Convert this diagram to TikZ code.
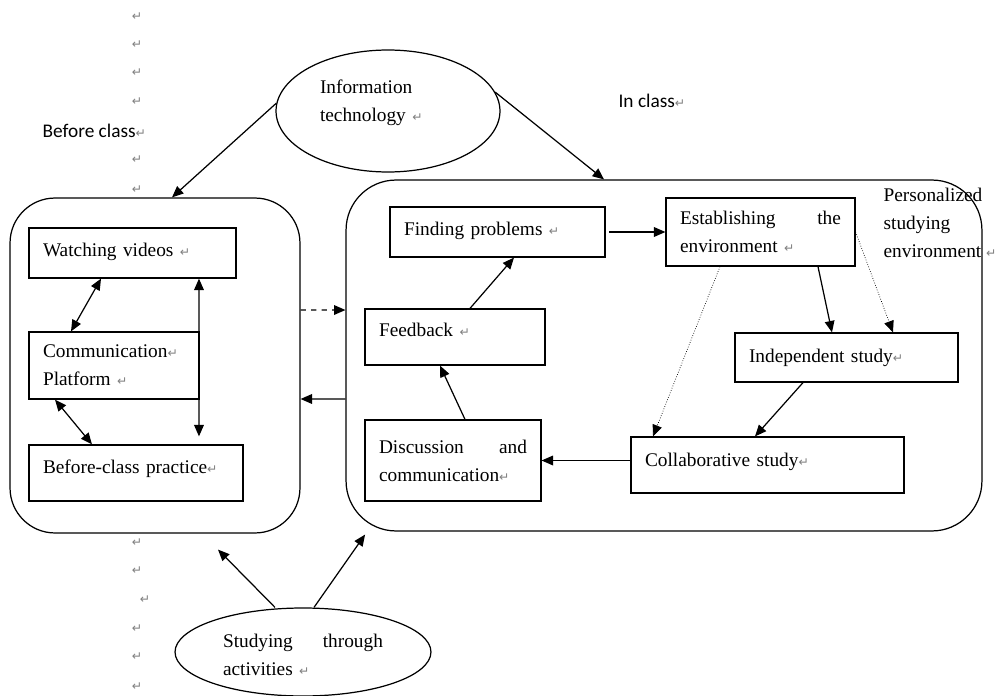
\documentclass[tikz,border=0pt]{standalone}
\usepackage{fontspec}
\setmainfont{Liberation Serif}
\newfontfamily\labelfont{Carlito}
\newfontfamily\markfont{DejaVu Sans}
\usepackage{tikz}
\usetikzlibrary{arrows.meta,shapes.geometric}
\newcommand{\retmark}{{\color{gray}\markfont\scriptsize ↵}}
\newcommand{\boxfont}{\fontsize{11}{16}\selectfont}

\begin{document}
\begin{tikzpicture}[x=0.02cm,y=-0.02cm,>={Triangle[length=6.5pt,width=5.5pt]},line width=0.7pt,
    box/.style={draw,inner xsep=0.28cm,align=left,font=\boxfont},
    bubble/.style={draw,ellipse,align=left,font=\boxfont,inner sep=0pt},
    side/.style={anchor=west,inner sep=0pt,font=\labelfont\fontsize{11}{13}\selectfont}]
                \useasboundingbox (0,0) rectangle (1005,696);
                % the two big panels
                \node[draw,rounded corners=0.9cm,minimum width=5.8cm,minimum height=6.7cm] (lp) at (155,365.5) {};
                \node[draw,rounded corners=1cm,minimum width=12.72cm,minimum height=7.02cm] (rp) at (664,355.5) {};
                % before class
                \node[box,text width=3.58cm,minimum height=1.0cm,text depth=4pt] (watch) at (132.5,253) {Watching videos \retmark};
                \node[box,text width=2.84cm,minimum height=1.34cm] (comm) at (114,365.5) {Communication\retmark\\Platform \retmark};
                \node[box,text width=3.72cm,minimum height=1.12cm,text depth=7pt] (prac) at (136,473) {Before-class practice\retmark};
                % in class
                \node[box,text width=3.74cm,minimum height=1.0cm,text depth=4pt] (find) at (497.5,232) {Finding problems \retmark};
                \node[box,text width=3.04cm,minimum height=1.12cm,text depth=8.5pt] (feed) at (455,337) {Feedback \retmark};
                \node[box,text width=2.96cm,minimum height=1.62cm] (disc) at (453,460.5) {\hbox to 2.96cm{Discussion\hfil and}\\communication\retmark};
                \node[box,text width=3.22cm,minimum height=1.36cm] (estab) at (760.5,232) {\hbox to 3.22cm{Establishing\hfil the}\\environment \retmark};
                \node[box,text width=3.9cm,minimum height=0.98cm] (indep) at (846.5,357.5) {Independent study\retmark};
                \node[box,text width=4.9cm,minimum height=1.12cm,text depth=6pt] (collab) at (767.5,465) {Collaborative study\retmark};
                % ellipses
                \node[bubble,minimum width=4.48cm,minimum height=2.44cm,text width=2.72cm,text depth=28pt] (info) at (388,111) {Information\\technology \retmark};
                \node[bubble,minimum width=5.12cm,minimum height=1.76cm,text width=3.2cm,text depth=13pt] (stud) at (303,652) {\hbox to 3.2cm{Studying\hfil through}\\activities \retmark};
                % side labels
                \node[side] (before) at (42,131) {Before class\retmark};
                \node[side] (inclass) at (618,101) {In class\retmark};
                \node[anchor=west,inner sep=0pt,align=left,font=\boxfont] (pers) at (883,223) {Personalized\\studying\\environment \retmark};
                \foreach \yy in {17,45,73,102,160,190,543,571,629,657,687}
                    \node (m\yy) at (137,\yy) {\retmark};
                \node (m600) at (145,600) {\retmark};
                % arrows before class
                \draw[<->] ([xshift=-0.63cm]watch.south) -- ([xshift=-0.86cm]comm.north);
                \draw[<->] ([xshift=-1.18cm]comm.south) -- ([xshift=-0.88cm]prac.north);
                \draw[<->] ([xshift=1.33cm]watch.south) -- ([xshift=1.26cm,yshift=0.16cm]prac.north);
                % arrows in class
                \draw[->,shorten <=2pt] (find.east) -- (estab.west);
                \draw[->] ([xshift=0.3cm]feed.north) -- ([xshift=0.33cm]find.south);
                \draw[->] ([xshift=0.24cm]disc.north) -- ([xshift=-0.3cm]feed.south);
                \draw[->] (disc.east -| collab.west) -- (disc.east);
                \draw[->] ([xshift=1.15cm]estab.south) -- ([xshift=-0.29cm]indep.north);
                \draw[->,densely dotted,thin] (estab.east) -- ([xshift=0.93cm]indep.north);
                \draw[->,densely dotted,thin] ([xshift=-0.81cm]estab.south) -- ([xshift=-2.29cm]collab.north);
                \draw[->] ([xshift=-0.87cm]indep.south) -- ([xshift=-0.25cm]collab.north);
                % between panels
                \draw[->,dashed] ([yshift=1.11cm]lp.east) -- ([yshift=0.91cm]rp.west);
                \draw[->] ([yshift=-0.87cm]rp.west) -- ([yshift=-0.67cm]lp.east);
                % from the ellipses
                \draw[->] (info.176) -- ([xshift=0.34cm]lp.north);
                \draw[->] (info.10) -- ([xshift=-1.2cm]rp.north);
                \draw[->] ([xshift=-0.56cm]stud.north) -- ([xshift=1.26cm,yshift=-0.32cm]lp.south);
                \draw[->] ([xshift=0.22cm]stud.north) -- ([xshift=-5.98cm,yshift=-0.06cm]rp.south);
\end{tikzpicture}
\end{document}
